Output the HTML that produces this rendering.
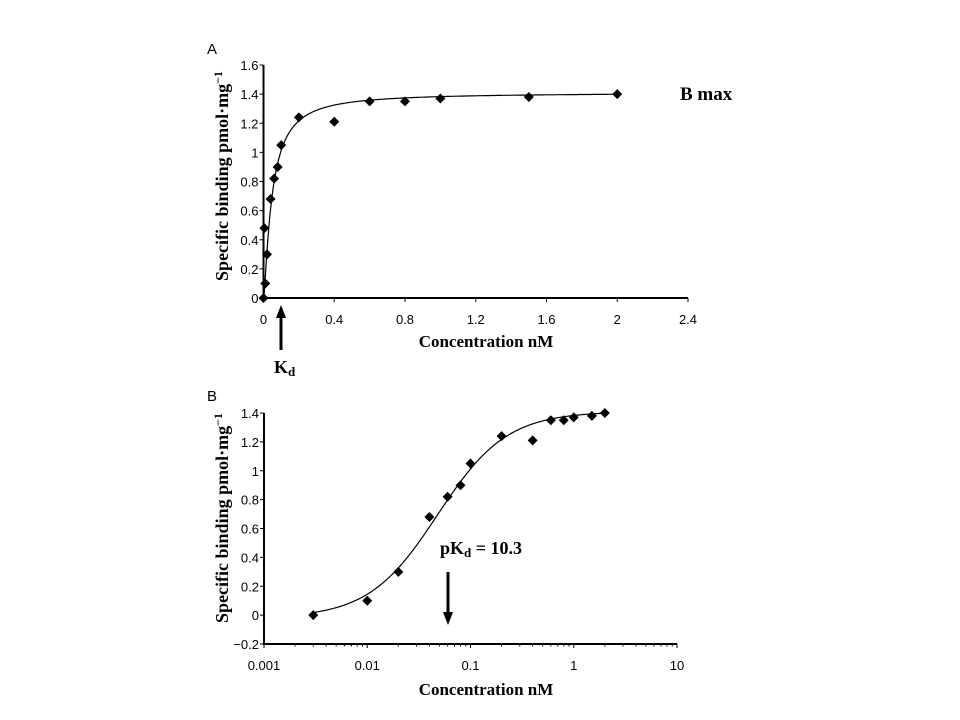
<!DOCTYPE html>
<html><head><meta charset="utf-8"><style>
html,body{margin:0;padding:0;background:#fff;width:960px;height:720px;overflow:hidden}
svg text{font-family:"Liberation Sans",sans-serif}
.ser{font-family:"Liberation Serif",serif;font-weight:bold}
</style></head><body>
<svg id="chart" width="960" height="720" viewBox="0 0 960 720">
<text x="207" y="54" font-size="15">A</text>
<text x="207" y="401" font-size="15">B</text>
<g id="pa"></g>
<g id="pb"></g>
<text class="ser" x="680" y="100" font-size="19">B max</text>
<text class="ser" x="274" y="373" font-size="18">K<tspan font-size="13" dy="3">d</tspan></text>
<text class="ser" x="440" y="554" font-size="18">pK<tspan font-size="13" dy="3">d</tspan><tspan dy="-3"> = 10.3</tspan></text>
<line x1="281" y1="350" x2="281" y2="316" stroke="#000" stroke-width="3"/>
<polygon points="276,318 286,318 281,305" fill="#000"/>
<line x1="448" y1="572" x2="448" y2="614" stroke="#000" stroke-width="3"/>
<polygon points="443,612 453,612 448,625" fill="#000"/>
</svg>
<script>
const concA=[0,0.005,0.01,0.02,0.04,0.06,0.08,0.1,0.2,0.4,0.6,0.8,1,1.5,2];
const bindA=[0,0.48,0.1,0.3,0.68,0.82,0.9,1.05,1.24,1.21,1.35,1.35,1.37,1.38,1.40];
const concB=[0.003,0.01,0.02,0.04,0.06,0.08,0.1,0.2,0.4,0.6,0.8,1,1.5,2];
const bindB=[0,0.1,0.3,0.68,0.82,0.9,1.05,1.24,1.21,1.35,1.35,1.37,1.38,1.40];
const xTicksA=[0,0.4,0.8,1.2,1.6,2,2.4];
const xTickLabelsA=["0","0.4","0.8","1.2","1.6","2","2.4"];
const yTicksA=[0,0.2,0.4,0.6,0.8,1,1.2,1.4,1.6];
const yTickLabelsA=["0","0.2","0.4","0.6","0.8","1","1.2","1.4","1.6"];
const xTicksB=[0.001,0.01,0.1,1,10];
const xTickLabelsB=["0.001","0.01","0.1","1","10"];
const yTicksB=[-0.2,0,0.2,0.4,0.6,0.8,1,1.2,1.4];
const yTickLabelsB=["\u22120.2","0","0.2","0.4","0.6","0.8","1","1.2","1.4"];
const fit={bottom:-0.02,top:1.41,k:0.048,n:1.3};
const NS="http://www.w3.org/2000/svg";
function mk(p,t,a){const e=document.createElementNS(NS,t);for(const k in a)e.setAttribute(k,a[k]);p.appendChild(e);return e;}
function hill(x){const r=Math.pow(x/fit.k,fit.n);return fit.bottom+(fit.top-fit.bottom)*r/(1+r);}
function diamond(g,x,y){const d=mk(g,'polygon',{points:`${x},${y-5} ${x+5},${y} ${x},${y+5} ${x-5},${y}`,fill:'#000'});

}
function ytitle(g,cx,cy){const t=mk(g,'text',{x:cx,y:cy,'font-size':18,'text-anchor':'middle',transform:`rotate(-90 ${cx} ${cy})`,class:'ser'});


t.innerHTML='Specific binding pmol\u00b7mg<tspan font-size="12" dy="-6">\u22121</tspan>';}
function xtitle(g,cx,cy){const t=mk(g,'text',{x:cx,y:cy,'font-size':17,'text-anchor':'middle',class:'ser'});


t.textContent='Concentration nM';}
// Panel A
(function(){const g=document.getElementById('pa');
const x0=263.5,x1=688,y0=298,y1=65;
const sx=v=>x0+(v/2.4)*(x1-x0), sy=v=>y0-(v/1.6)*(y0-y1);
const ax=mk(g,'path',{d:`M${x0},${y1} V${y0} H${x1}`,stroke:'#000','stroke-width':2,fill:'none'});


yTicksA.forEach((v,i)=>{mk(g,'line',{x1:x0-4,x2:x0,y1:sy(v),y2:sy(v),stroke:'#000'});
const t=mk(g,'text',{x:x0-5,y:sy(v)+5,'font-size':13,'text-anchor':'end'});


t.textContent=yTickLabelsA[i];});
xTicksA.forEach((v,i)=>{mk(g,'line',{x1:sx(v),x2:sx(v),y1:y0,y2:y0+4,stroke:'#000'});
const t=mk(g,'text',{x:sx(v),y:y0+26,'font-size':13,'text-anchor':'middle'});


t.textContent=xTickLabelsA[i];});
let d='';for(let i=0;i<=400;i++){const x=2*Math.pow(i/400,2.5);d+=(i?'L':'M')+sx(x).toFixed(1)+','+sy(Math.max(0,hill(x))).toFixed(1);}
const c=mk(g,'path',{d:d,stroke:'#000','stroke-width':1.2,fill:'none'});


concA.forEach((v,i)=>diamond(g,sx(v),sy(bindA[i])));
ytitle(g,228,176);xtitle(g,486,347);})();
// Panel B
(function(){const g=document.getElementById('pb');
const x0=264,x1=677,y0=644,y1=413;
const sx=v=>x0+(Math.log10(v)+3)/4*(x1-x0), sy=v=>y0-((v+0.2)/1.6)*(y0-y1);
const ax=mk(g,'path',{d:`M${x0},${y1} V${y0} H${x1}`,stroke:'#000','stroke-width':2,fill:'none'});


yTicksB.forEach((v,i)=>{mk(g,'line',{x1:x0-4,x2:x0,y1:sy(v),y2:sy(v),stroke:'#000'});
const t=mk(g,'text',{x:x0-5,y:sy(v)+5,'font-size':13,'text-anchor':'end'});


t.textContent=yTickLabelsB[i];});
xTicksB.forEach((v,i)=>{mk(g,'line',{x1:sx(v),x2:sx(v),y1:y0,y2:y0+4,stroke:'#000'});
if(i<xTicksB.length-1)for(let m=2;m<10;m++){const xm=sx(v*m);mk(g,'line',{x1:xm,x2:xm,y1:y0,y2:y0+2.5,stroke:'#000'});}
const t=mk(g,'text',{x:sx(v),y:y0+26,'font-size':13,'text-anchor':'middle'});


t.textContent=xTickLabelsB[i];});
let d='';const a=Math.log10(concB[0]),b=Math.log10(concB[concB.length-1]);
for(let i=0;i<=300;i++){const x=Math.pow(10,a+(b-a)*i/300);d+=(i?'L':'M')+sx(x).toFixed(1)+','+sy(hill(x)).toFixed(1);}
const c=mk(g,'path',{d:d,stroke:'#000','stroke-width':1.2,fill:'none'});


concB.forEach((v,i)=>diamond(g,sx(v),sy(bindB[i])));
ytitle(g,228,518);xtitle(g,486,695);})();
</script>
</body></html>
